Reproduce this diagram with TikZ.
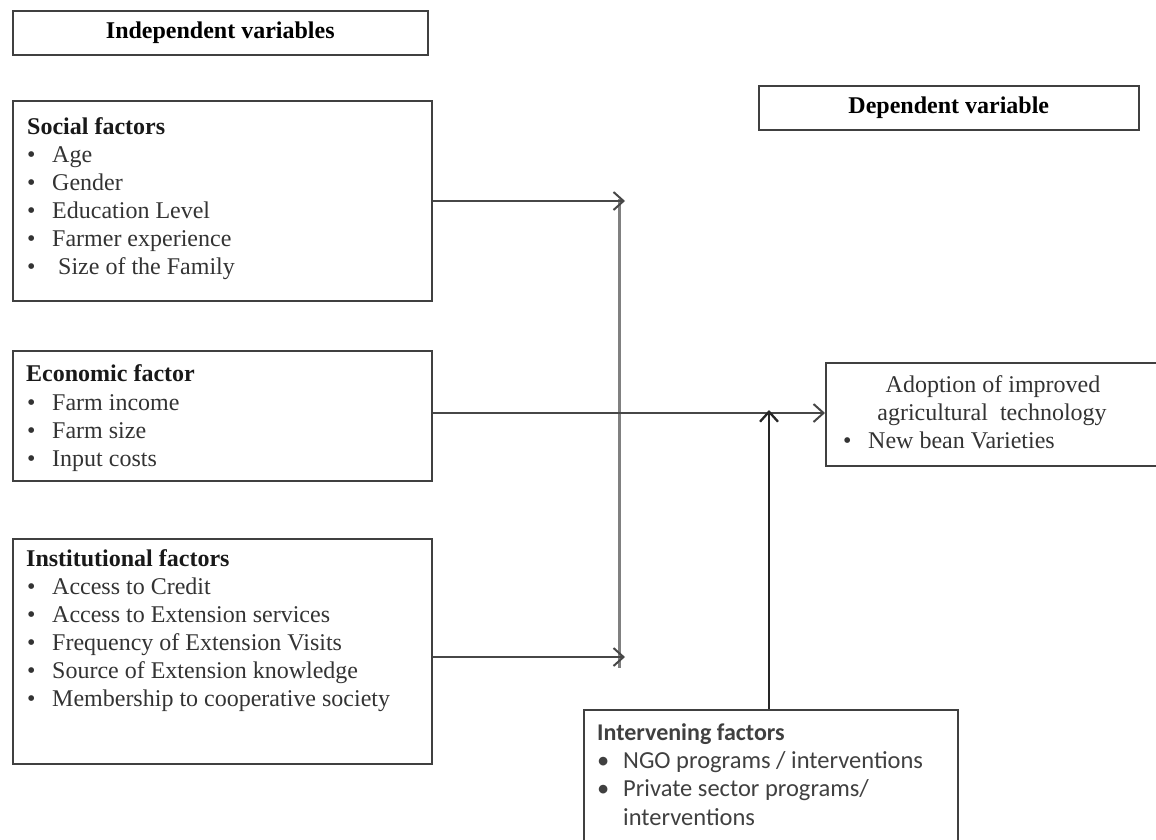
\documentclass[tikz,border=0pt]{standalone}
\usepackage{fontspec}
\setmainfont{Liberation Serif}
\newfontfamily\calib{Carlito}
\usetikzlibrary{arrows.meta}
\tikzset{
  box/.style={draw=black!75, line width=1.6pt, anchor=north west, inner sep=0pt},
  txt/.style={anchor=base west, inner sep=0pt, font=\fontsize{24}{27.6}\selectfont, text=black!80},
  ttl/.style={txt, font=\fontsize{24}{27.6}\selectfont\bfseries, text=black!90},
  ctxt/.style={anchor=base west, inner sep=0pt, font=\calib\fontsize{24.5}{28}\selectfont, text=black!75},
  conn/.style={draw=black!72, line width=2pt, -{Straight Barb[length=10pt,width=18pt,line width=2pt]}},
  upconn/.style={draw=black!85, line width=2.3pt, -{Straight Barb[length=10pt,width=18pt,line width=2.3pt]}},
  vline/.style={draw=black!50, line width=3pt}
}
\newcommand{\bul}[3]{\node[txt] (#1) at (#2) {\makebox[25pt][l]{\textbullet}#3};}
\begin{document}
\begin{tikzpicture}[x=1pt,y=-1pt]
\useasboundingbox (0,0) rectangle (1156,839);
% header boxes
\node[box, minimum width=415pt, minimum height=44pt, font=\fontsize{24}{27.6}\selectfont\bfseries] (indep) at (12,10) {Independent variables};
\node[box, minimum width=380pt, minimum height=44pt, font=\fontsize{24}{27.6}\selectfont\bfseries] (dep) at (758,85) {Dependent variable};
% social
\node[box, minimum width=419pt, minimum height=200pt] (social) at (12,100) {};
\node[ttl] (st) at (27,134) {Social factors};
\bul{s1}{27,162}{Age}
\bul{s2}{27,190}{Gender}
\bul{s3}{27,218}{Education Level}
\bul{s4}{27,246}{Farmer experience}
\bul{s5}{27,274}{\ Size of the Family}
% economic
\node[box, minimum width=419pt, minimum height=130pt] (econ) at (12,350) {};
\node[ttl] (et) at (26,381) {Economic factor};
\bul{e1}{27,410}{Farm income}
\bul{e2}{27,438}{Farm size}
\bul{e3}{27,466}{Input costs}
% institutional
\node[box, minimum width=419pt, minimum height=225pt] (inst) at (12,538) {};
\node[ttl] (it) at (26,566) {Institutional factors};
\bul{i1}{27,594}{Access to Credit}
\bul{i2}{27,622}{Access to Extension services}
\bul{i3}{27,650}{Frequency of Extension Visits}
\bul{i4}{27,678}{Source of Extension knowledge}
\bul{i5}{27,706}{Membership to cooperative society}
% dependent box
\node[box, minimum width=340pt, minimum height=103pt] (adopt) at (825,362) {};
\node[txt, anchor=base] (a1) at (993,392) {Adoption of improved};
\node[txt, anchor=base] (a2) at (992,420) {agricultural\ \ technology};
\node[txt] (a3) at (843,448) {\makebox[25pt][l]{\textbullet}New bean Varieties};
% intervening
\node[box, minimum width=374pt, minimum height=160pt] (interv) at (583,709) {};
\node[ctxt, font=\calib\fontsize{24}{28}\selectfont\bfseries] (vt) at (597,740) {Intervening factors};
\node[ctxt] (v1) at (597,768) {\makebox[26pt][l]{\textbullet}NGO programs / interventions};
\node[ctxt] (v2) at (597,796) {\makebox[26pt][l]{\textbullet}Private sector programs/};
\node[ctxt] (v3) at (623,825) {interventions};
% connectors
\coordinate (jt) at (619,201);
\coordinate (jb) at (619,657);
\coordinate (vtop) at (619,199);
\coordinate (vbot) at (619,668);
\coordinate (ej) at (769,413);
\draw[vline] (vtop) -- (vbot);
\draw[conn] (social.east |- jt) -- ([xshift=6pt]jt);
\draw[conn] (inst.east |- jb) -- ([xshift=6pt]jb);
\draw[conn] (econ.east |- ej) -- (adopt.west |- ej);
\draw[upconn] (interv.north -| ej) -- ([yshift=3pt]ej);
\end{tikzpicture}
\end{document}
